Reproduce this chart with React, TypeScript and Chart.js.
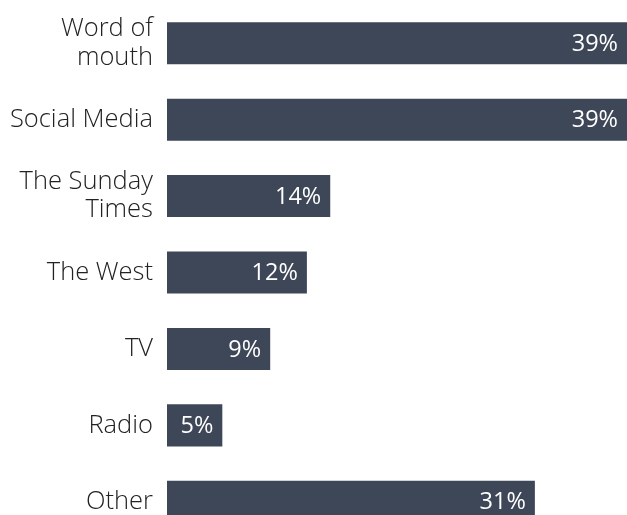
import React, { useEffect, useRef } from "react";
import { Chart, registerables } from "chart.js";

Chart.register(...registerables);

const categories: (string | string[])[] = [
  ["Word of", "mouth"],
  "Social Media",
  ["The Sunday", "Times"],
  "The West",
  "TV",
  "Radio",
  "Other",
];
const shares: number[] = [39, 39, 13.84, 11.86, 8.75, 4.69, 31.19];
const valueLabels: string[] = ["39%", "39%", "14%", "12%", "9%", "5%", "31%"];

const BAR_COLOR = "#3e4757";
const FONT = "'Open Sans', Lato, sans-serif";

const barLabelPlugin = {
  id: "barLabels",
  afterDatasetsDraw(chart: any) {
    const ctx = chart.ctx;
    const meta = chart.getDatasetMeta(0);
    ctx.save();
    ctx.fillStyle = "#ffffff";
    ctx.font = `400 23.5px ${FONT}`;
    ctx.textAlign = "right";
    ctx.textBaseline = "middle";
    meta.data.forEach((el: any, i: number) => {
      ctx.fillText(valueLabels[i], el.x - 9, el.y + 1);
    });
    ctx.restore();
  },
};

export default function App() {
  const ref = useRef<HTMLCanvasElement | null>(null);
  useEffect(() => {
    if (!ref.current) return;
    const chart = new Chart(ref.current, {
      type: "bar",
      data: {
        labels: categories,
        datasets: [
          {
            data: shares,
            backgroundColor: BAR_COLOR,
            borderWidth: 0,
            barPercentage: 0.55,
            categoryPercentage: 1,
          },
        ],
      },
      options: {
        indexAxis: "y",
        animation: false,
        responsive: false,
        maintainAspectRatio: false,
        layout: { padding: { top: 5, bottom: 0, left: 0, right: 0 } },
        plugins: {
          legend: { display: false },
          tooltip: { enabled: false },
        },
        scales: {
          x: { display: false, min: 0, max: 39 },
          y: {
            grid: { display: false, drawTicks: false },
            border: { display: false },
            ticks: {
              color: "#222222",
              padding: 14,
              font: { family: FONT, size: 25.5, weight: "300" as any, lineHeight: 1.1 },
            },
            afterFit: (scale: any) => {
              scale.width = 167;
              scale.paddingTop = 0;
              scale.paddingBottom = 0;
            },
          },
        },
      },
      plugins: [barLabelPlugin],
    });
    return () => chart.destroy();
  }, []);
  return (
    <div style={{ position: "fixed", left: 0, top: 0, width: 627, height: 540 }}>
      <canvas ref={ref} width={627} height={540} style={{ width: 627, height: 540 }} />
    </div>
  );
}
